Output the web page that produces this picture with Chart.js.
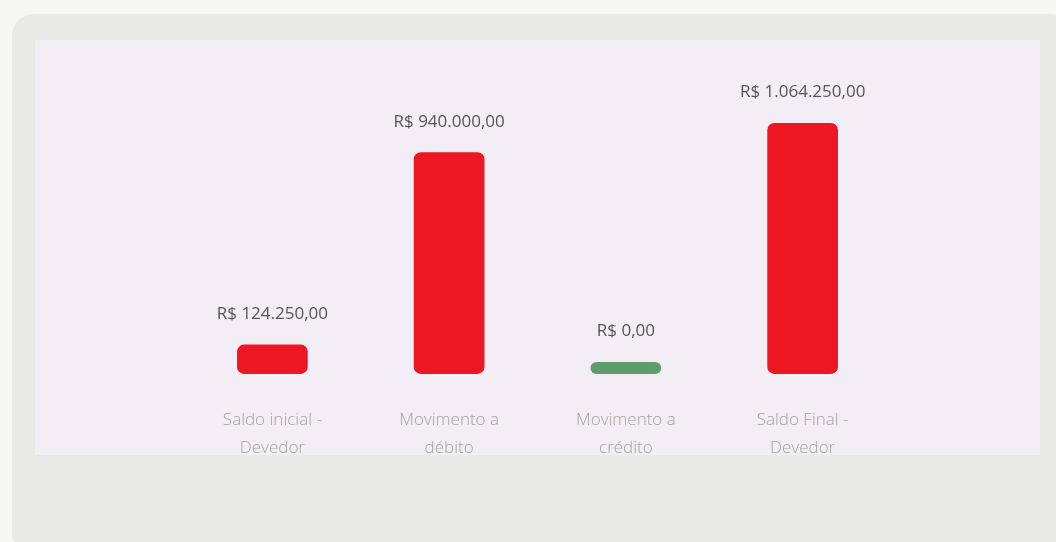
<!DOCTYPE html>
<html>
<head>
<meta charset="utf-8">
<script src="https://cdn.jsdelivr.net/npm/chart.js@4"></script>
<style>
  html, body { margin: 0; padding: 0; }
  body { width: 1056px; height: 542px; background: #f7f7f6; position: relative; overflow: hidden; }
  .frame { position: absolute; left: 12px; top: 14px; width: 1060px; height: 540px; background: #e9e9e7; border-radius: 22px; }
  .plot { position: absolute; left: 35px; top: 40px; width: 1005px; height: 415px; background: #f3eef5; }
  .wrap { position: absolute; left: 0; top: 0; width: 1056px; height: 542px; }
</style>
</head>
<body>
<div class="frame"></div>
<div class="plot"></div>
<div class="wrap"><canvas id="grafico" width="1056" height="542"></canvas></div>
<script>
const categorias = [
    ['Saldo inicial -', 'Devedor'],
    ['Movimento a', 'débito'],
    ['Movimento a', 'crédito'],
    ['Saldo Final -', 'Devedor']
];
const valores = [124250, 940000, 0, 1064250];
const cores = ['#ec1723', '#ec1723', '#5f9c6c', '#ec1723'];

function formatarReal(v) {
    return 'R$ ' + v.toLocaleString('pt-BR', { minimumFractionDigits: 2, maximumFractionDigits: 2 });
}

// rótulos de valor acima das barras
const rotulos = {
    id: 'rotulos',
    afterDatasetsDraw(chart) {
        const ctx = chart.ctx;
        const meta = chart.getDatasetMeta(0);
        ctx.save();
        ctx.font = '17px "Open Sans"';
        ctx.fillStyle = '#555555';
        ctx.textAlign = 'center';
        ctx.textBaseline = 'bottom';
        meta.data.forEach((bar, i) => {
            ctx.fillText(formatarReal(valores[i]), bar.x, bar.y - 22);
        });
        ctx.restore();
    }
};

const ctx = document.getElementById('grafico').getContext('2d');
const chart = new Chart(ctx, {
    type: 'bar',
    data: {
        labels: categorias,
        datasets: [{
            data: valores,
            backgroundColor: cores,
            borderRadius: 7,
            borderSkipped: false,
            minBarLength: 12,
            barPercentage: 0.4,
            categoryPercentage: 1
        }]
    },
    options: {
        responsive: false,
        animation: false,
        layout: {
            padding: { left: 184, right: 165, top: 91, bottom: 56 }
        },
        scales: {
            x: {
                grid: { display: false },
                border: { display: false },
                ticks: {
                    color: '#a3a3a3',
                    font: { family: 'Open Sans', size: 17, weight: '300', lineHeight: 1.65 },
                    padding: 24
                }
            },
            y: {
                display: false,
                min: 0,
                max: 1200000
            }
        },
        plugins: {
            legend: { display: false },
            tooltip: { enabled: false }
        }
    },
    plugins: [rotulos]
});
</script>
</body>
</html>
